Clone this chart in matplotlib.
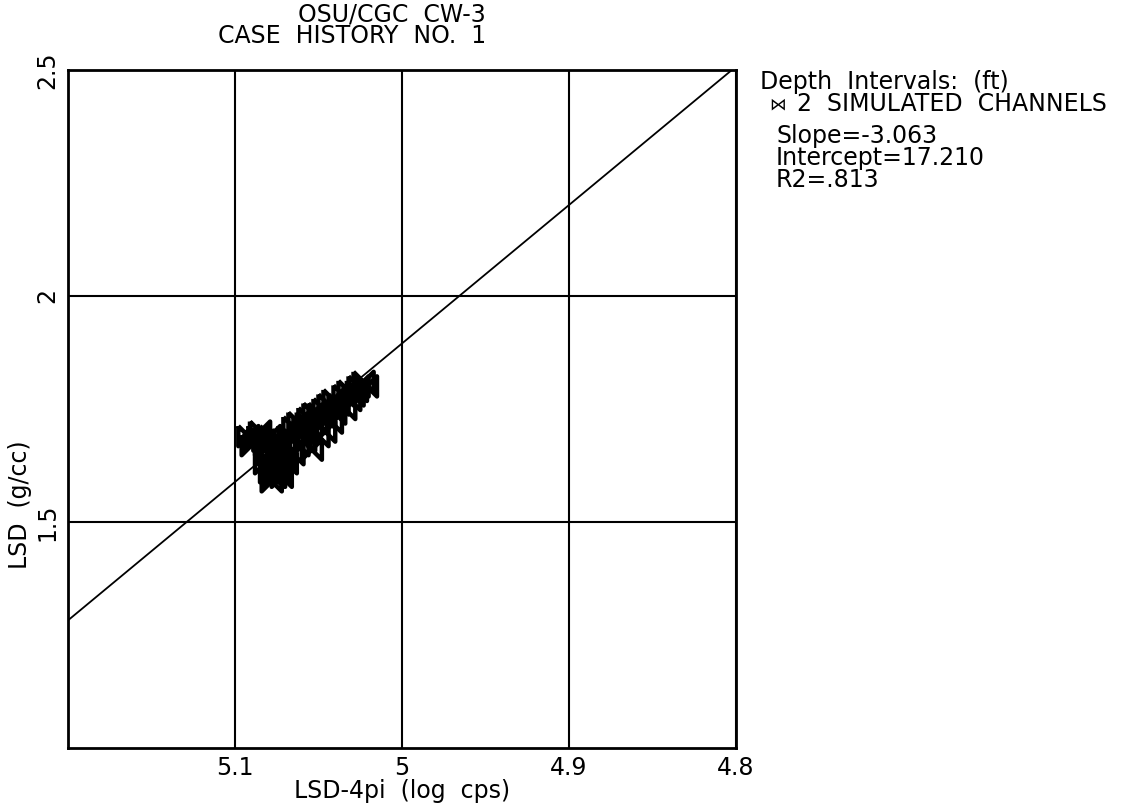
import numpy as np
import matplotlib.pyplot as plt
from matplotlib.path import Path

# data: LSD-4pi (log cps) vs LSD (g/cc)
lsd4pi = [5.092, 5.088, 5.085, 5.082, 5.079, 5.076, 5.090, 5.078, 5.073, 5.086, 5.083, 5.075,
          5.082, 5.079, 5.076, 5.074, 5.071, 5.078, 5.072, 5.080, 5.069, 5.075, 5.077, 5.073,
          5.068, 5.065, 5.062, 5.059, 5.056, 5.053, 5.050, 5.047, 5.044, 5.041,
          5.038, 5.035, 5.032, 5.029, 5.026, 5.023, 5.021, 5.034, 5.040, 5.046,
          5.060, 5.057, 5.051, 5.031, 5.027,
          5.062, 5.058, 5.054, 5.050, 5.046, 5.042, 5.065]
lsd = [1.69, 1.68, 1.70, 1.67, 1.69, 1.68, 1.67, 1.66, 1.67, 1.69, 1.68, 1.66,
       1.63, 1.61, 1.60, 1.62, 1.64, 1.59, 1.60, 1.65, 1.63, 1.62, 1.60, 1.61,
       1.69, 1.71, 1.72, 1.71, 1.73, 1.74, 1.74, 1.75, 1.76, 1.77,
       1.76, 1.78, 1.79, 1.78, 1.80, 1.81, 1.80, 1.75, 1.74, 1.73,
       1.70, 1.72, 1.72, 1.77, 1.79,
       1.67, 1.68, 1.66, 1.69, 1.70, 1.72, 1.65]
slope = -3.063
intercept = 17.210
r2 = .813
xticks = [5.1, 5.0, 4.9, 4.8]
xticklabels = ['5.1', '5', '4.9', '4.8']
yticks = [1.5, 2.0, 2.5]
yticklabels = ['1.5', '2', '2.5']

# bowtie marker
bowtie = Path([(-1, 1), (-1, -1), (1, 1), (1, -1), (-1, 1)])

plt.rcParams['font.family'] = 'DejaVu Sans'
fs = 17
fig = plt.figure(figsize=(11.38, 8.09), dpi=100)
ax = fig.add_axes([68/1138, 1-748/809, 668/1138, 678/809])

ax.set_xlim(5.2, 4.8)
ax.set_ylim(1.0, 2.5)

xl = np.array([5.2, 4.8])
ax.plot(xl, slope*xl + intercept, color='black', lw=1.3)

ax.scatter(lsd4pi, lsd, marker=bowtie, s=210, facecolors='none',
           edgecolors='black', linewidths=3.2, zorder=3)

for t in xticks:
    ax.axvline(t, color='black', lw=1.5)
for t in yticks:
    ax.axhline(t, color='black', lw=1.5)

ax.set_xticks(xticks)
ax.set_xticklabels(xticklabels, fontsize=fs)
ax.set_yticks(yticks)
ax.set_yticklabels(yticklabels, fontsize=fs, rotation=90, va='center')
ax.tick_params(length=0, pad=6)
for s in ax.spines.values():
    s.set_linewidth(2)

ax.set_xlabel('LSD-4pi  (log  cps)', fontsize=fs, labelpad=-1)
fig.text(20/1138, 1-505/809, 'LSD  (g/cc)', rotation=90, fontsize=fs,
         ha='center', va='center')

fig.text(486/1138, 1-14/809, 'OSU/CGC  CW-3', fontsize=fs, ha='right', va='center')
fig.text(486/1138, 1-36/809, 'CASE  HISTORY  NO.  1', fontsize=fs, ha='right', va='center')

fig.text(760/1138, 1-82/809, 'Depth  Intervals:  (ft)', fontsize=fs, va='center')
fig.text(778/1138, 1-104/809, '\u22c8', fontsize=12, ha='center', va='center')
fig.text(797/1138, 1-104/809, '2  SIMULATED  CHANNELS', fontsize=fs, va='center')
fig.text(776/1138, 1-158/809,
         'Slope=%.3f\nIntercept=%.3f\nR2=%s' % (slope, intercept, ('%.3f' % r2)[1:]),
         fontsize=fs, va='center', linespacing=0.9)

fig.savefig('out.png', dpi=100)
